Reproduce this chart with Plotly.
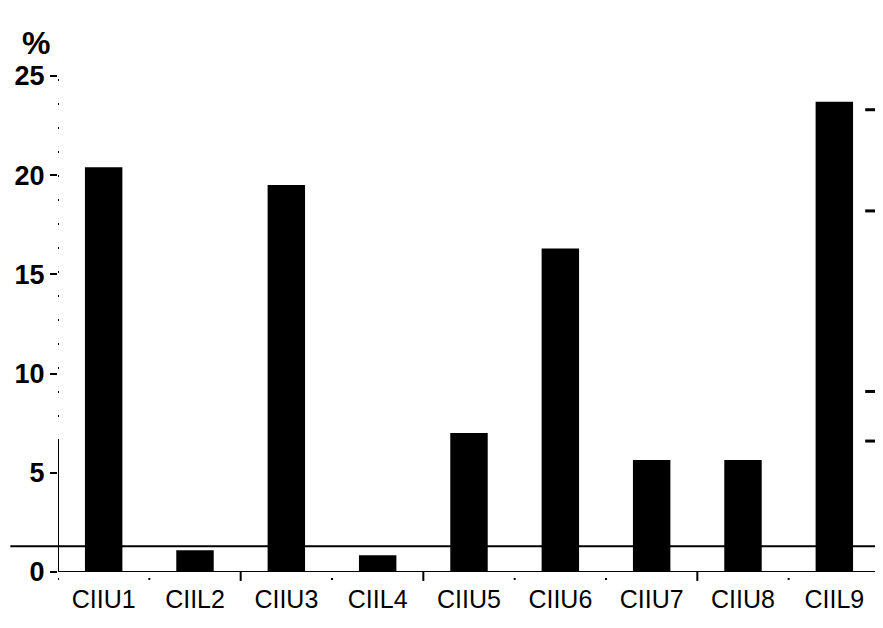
import plotly.graph_objects as go

categories = ["CIIU1", "CIIL2", "CIIU3", "CIIL4", "CIIU5", "CIIU6", "CIIU7", "CIIU8", "CIIL9"]
values = [20.4, 1.1, 19.5, 0.85, 7.0, 16.3, 5.65, 5.65, 23.7]
y_ticks = [0, 5, 10, 15, 20, 25]
y_tick_labels = ["0", "5", "10", "15", "20", "25"]
reference_level = 1.3
right_marks = [23.3, 18.2, 9.1, 6.6]
major_boundaries = [1.5, 3.5, 6.5, 8.5]
minor_boundaries = [-0.5, 0.5, 2.5, 4.5, 5.5, 7.5]

Y_MAX = 25
solid_axis_top = 6.6

x_idx = list(range(len(categories)))

fig = go.Figure()
fig.add_trace(go.Bar(x=x_idx, y=values, width=0.41, marker=dict(color="black", line=dict(width=0)),
                     showlegend=False))

shapes = []
# y axis: solid bottom part, dotted upper part
shapes.append(dict(type="line", xref="x", yref="y", x0=-0.5, x1=-0.5, y0=0, y1=solid_axis_top,
                   line=dict(color="black", width=2)))
shapes.append(dict(type="line", xref="x", yref="y", x0=-0.5, x1=-0.5, y0=solid_axis_top, y1=Y_MAX,
                   line=dict(color="black", width=2, dash="2px,22px")))
# x axis line
shapes.append(dict(type="line", xref="x", yref="y", x0=-0.5, x1=8.5, y0=0, y1=0,
                   line=dict(color="black", width=2)))
# reference line spanning beyond plot
shapes.append(dict(type="line", xref="paper", yref="paper", x0=-0.058, x1=1.01,
                   y0=reference_level / Y_MAX, y1=reference_level / Y_MAX,
                   line=dict(color="black", width=2)))
# bottom major ticks
for b in major_boundaries:
    shapes.append(dict(type="line", xref="x", yref="paper", x0=b, x1=b, y0=0, y1=-0.018,
                       line=dict(color="black", width=2)))
# bottom minor dots
for b in minor_boundaries:
    shapes.append(dict(type="line", xref="x", yref="paper", x0=b, x1=b, y0=-0.012, y1=-0.016,
                       line=dict(color="black", width=2)))
# right side small dashes
for m in right_marks:
    shapes.append(dict(type="line", xref="paper", yref="paper", x0=0.982, x1=1.004,
                       y0=m / Y_MAX, y1=m / Y_MAX,
                       line=dict(color="black", width=3)))

fig.update_layout(
    width=875, height=620,
    margin=dict(l=50, r=3, t=68, b=56),
    paper_bgcolor="white", plot_bgcolor="white",
    shapes=shapes,
    xaxis=dict(range=[-0.5, 8.5], tickvals=x_idx, ticktext=categories, showline=False,
               showgrid=False, zeroline=False, ticks="",
               tickfont=dict(family="Liberation Sans Narrow, Liberation Sans, Arial", size=25, color="black"),
               ticklabelstandoff=10),
    yaxis=dict(range=[0, Y_MAX], tickvals=y_ticks, ticktext=y_tick_labels, showline=False,
               showgrid=False, zeroline=False, ticks="outside", ticklen=7, tickwidth=2,
               tickcolor="black",
               tickfont=dict(family="Liberation Sans, Arial", size=27, color="black", weight="bold")),
    annotations=[dict(text="<b>%</b>", xref="paper", yref="paper", x=-0.027, y=1.026,
                      xanchor="center", yanchor="bottom", showarrow=False,
                      font=dict(family="Liberation Sans, Arial", size=32, color="black"))],
    bargap=0.5,
)

fig.write_html("out.html")
